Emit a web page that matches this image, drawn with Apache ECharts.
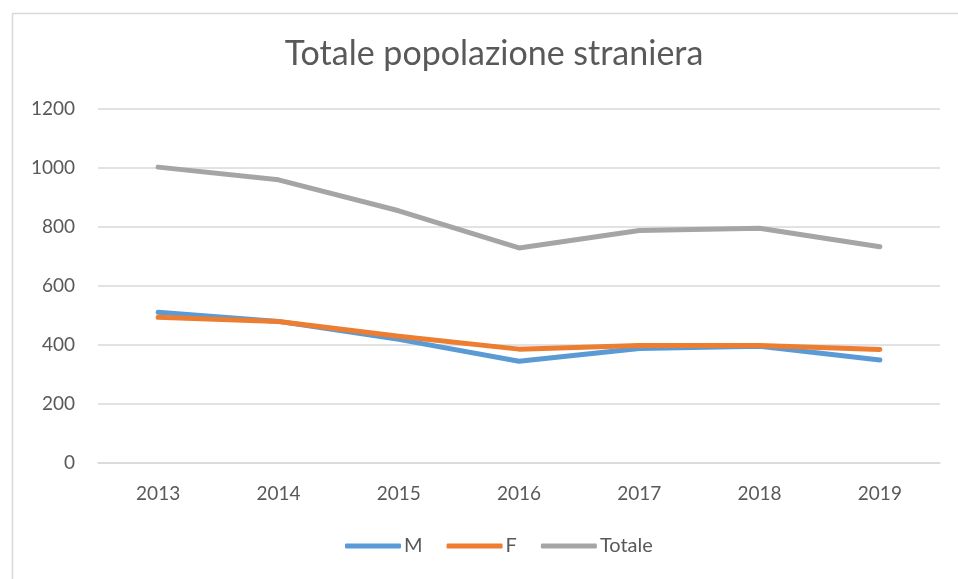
<!DOCTYPE html>
<html>
<head>
<meta charset="utf-8">
<script src="https://cdn.jsdelivr.net/npm/echarts@6/dist/echarts.min.js"></script>
<style>html,body{margin:0;padding:0;background:#fff;}#c{width:958px;height:579px;}</style>
</head>
<body>
<div id="c"></div>
<script>
const years = ['2013','2014','2015','2016','2017','2018','2019'];
const maschi = [511, 480, 419, 345, 388, 396, 349];
const femmine = [494, 480, 430, 386, 398, 398, 385];
const totale = [1003, 960, 855, 729, 788, 796, 733];
const yTicks = [0, 200, 400, 600, 800, 1000, 1200];

const txt = '#595959';
const font = 'Lato';
const chart = echarts.init(document.getElementById('c'));
chart.setOption({
  animation: false,
  backgroundColor: '#fff',
  graphic: [{
    type: 'rect', left: 10, top: 11,
    shape: {width: 1000, height: 600},
    style: {fill: 'none', stroke: '#D9D9D9', lineWidth: 1.5},
    z: -1
  }],
  title: {
    text: 'Totale popolazione straniera',
    left: 489, top: 32, textAlign: 'center',
    textStyle: {color: txt, fontFamily: font, fontWeight: 'normal', fontSize: 34}
  },
  legend: {
    bottom: 18, left: 340,
    itemWidth: 56, itemHeight: 5, itemGap: 24,
    icon: 'roundRect',
    textStyle: {color: txt, fontFamily: font, fontSize: 20, padding: [0,0,0,-2]},
    data: ['M','F','Totale']
  },
  grid: {left: 98, right: 18, top: 109, bottom: 116, containLabel: false},
  xAxis: {
    type: 'category', data: years, boundaryGap: true,
    axisLine: {show: true, lineStyle: {color: '#D9D9D9', width: 1.5}},
    axisTick: {show: false},
    axisLabel: {color: txt, fontFamily: font, fontSize: 19, margin: 21}
  },
  yAxis: {
    type: 'value', min: yTicks[0], max: yTicks[yTicks.length-1], interval: 200,
    axisLine: {show: false}, axisTick: {show: false},
    splitLine: {lineStyle: {color: '#D9D9D9', width: 1.5}},
    axisLabel: {color: txt, fontFamily: font, fontSize: 19, margin: 23,
      formatter: v => String(v)}
  },
  series: [
    {name: 'M', type: 'line', data: maschi, symbol: 'none', color: '#5B9BD5',
     lineStyle: {width: 5, cap: 'round', join: 'round'}},
    {name: 'F', type: 'line', data: femmine, symbol: 'none', color: '#ED7D31',
     lineStyle: {width: 5, cap: 'round', join: 'round'}},
    {name: 'Totale', type: 'line', data: totale, symbol: 'none', color: '#A5A5A5',
     lineStyle: {width: 5, cap: 'round', join: 'round'}}
  ]
});
</script>
</body>
</html>
